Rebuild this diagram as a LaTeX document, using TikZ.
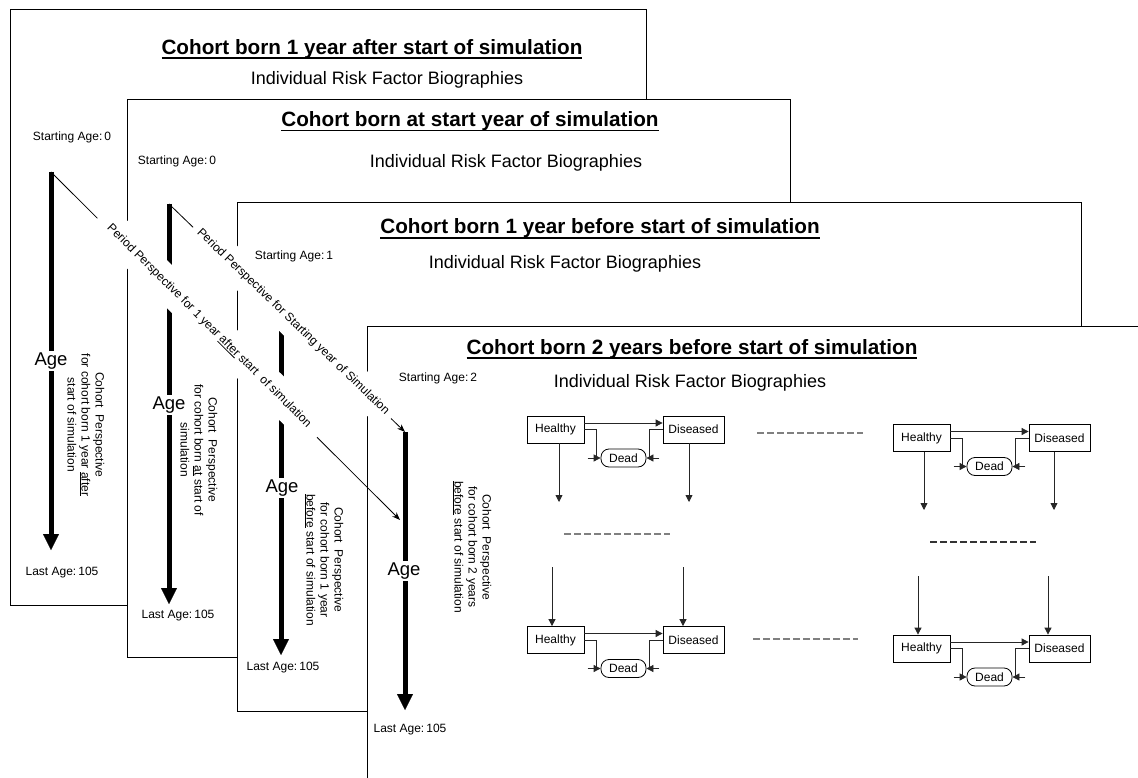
\documentclass[tikz,border=0pt]{standalone}
\usepackage{fontspec}
\setmainfont{Liberation Sans}
\usetikzlibrary{arrows.meta}
\newsavebox\ulbox
\newcommand\myul[3]{\sbox\ulbox{#3}\rlap{\rule[#1]{\wd\ulbox}{#2}}\usebox\ulbox}
\newcommand\tul[1]{\myul{-4.5pt}{1.8pt}{#1}}
\newcommand\sul[1]{\myul{-2pt}{0.8pt}{#1}}
\newcommand\stateblock[3]{%
  \node[stbox, minimum width=57pt, minimum height=27pt] (h#1) at (#2,#3) {Healthy};
  \node[stbox, minimum width=61pt, minimum height=27pt] (d#1) at (#2+138,#3) {Diseased};
  \node[deadbox, minimum width=45pt, minimum height=18pt] (x#1) at (#2+68,#3+28.5) {Dead};
  \draw[conn,arr] ([yshift=6.5pt]h#1.east) -- ([yshift=6.5pt]d#1.west);
  \draw[conn] (h#1.east) -| ([xshift=-4pt]x#1.west);
  \draw[conn,arr] ([xshift=-13pt]x#1.west) -- (x#1.west);
  \draw[conn] (d#1.west) -| ([xshift=3pt]x#1.east);
  \draw[conn,arr] ([xshift=13pt]x#1.east) -- (x#1.east);
}
\begin{document}
\begin{tikzpicture}[x=1pt,y=-1pt,
  panel/.style={draw=black, fill=white, line width=0.9pt, inner sep=0pt, anchor=north west},
  ttl/.style={font=\fontsize{20.7}{24}\selectfont\bfseries, anchor=base, inner sep=0pt},
  irfb/.style={font=\fontsize{18}{21}\selectfont, anchor=base, inner sep=0pt},
  agelbl/.style={font=\fontsize{12}{14}\selectfont, anchor=base, inner sep=0pt},
  agetxt/.style={font=\fontsize{18.5}{21}\selectfont, fill=white, inner sep=1.5pt},
  agearrow/.style={line width=5pt, -{Triangle[length=16pt,width=16pt,line width=0.1pt]}},
  cohtext/.style={font=\fontsize{12}{14}\selectfont, align=center, rotate=-90, inner sep=0pt},
  pertext/.style={font=\fontsize{12}{14}\selectfont, fill=white, inner sep=0pt},
  perline/.style={line width=0.8pt, -{Stealth[length=8pt,width=6pt]}},
  stbox/.style={draw=black, fill=white, font=\fontsize{12}{14}\selectfont, inner sep=0pt, line width=0.8pt},
  deadbox/.style={stbox, rounded corners=8pt},
  conn/.style={line width=0.8pt, draw=black!85},
  arr/.style={-{Triangle[length=7pt,width=7pt]}},
  dashg/.style={dash pattern=on 7pt off 3pt, line width=1.3pt, draw=black!50},
  dashk/.style={dash pattern=on 7pt off 3pt, line width=1.1pt, draw=black!80}
]
\useasboundingbox (0,0) rectangle (1138,778);
\clip (0,0) rectangle (1138,778);

% panels
\node[panel, minimum width=636pt, minimum height=596pt] (p1) at (10,9) {};
\node[panel, minimum width=663pt, minimum height=558pt] (p2) at (127,99) {};
\node[panel, minimum width=844pt, minimum height=509pt] (p3) at (237,202) {};
\node[panel, minimum width=793pt, minimum height=474pt] (p4) at (367,326) {};

% titles
\node[ttl] (t1) at (372,54.5) {\tul{Cohort born 1 year after start of simulation}};
\node[irfb] (i1) at (387,85) {Individual Risk Factor Biographies};
\node[ttl] (t2) at (470,127) {\tul{Cohort born at start year of simulation}};
\node[irfb] (i2) at (506,168) {Individual Risk Factor Biographies};
\node[ttl] (t3) at (600,234) {\tul{Cohort born 1 year before start of simulation}};
\node[irfb] (i3) at (565,269) {Individual Risk Factor Biographies};
\node[ttl] (t4) at (692,354) {\tul{Cohort born 2 years before start of simulation}};
\node[irfb] (i4) at (690,387) {Individual Risk Factor Biographies};

% starting / last ages
\node[agelbl] (s1) at (72,141) {Starting Age:\,0};
\node[agelbl] (s2) at (177,165) {Starting Age:\,0};
\node[agelbl] (s3) at (294,259) {Starting Age:\,1};
\node[agelbl] (s4) at (438,381) {Starting Age:\,2};
\node[agelbl] (l1) at (62,575) {Last Age:\,105};
\node[agelbl] (l2) at (178,618) {Last Age:\,105};
\node[agelbl] (l3) at (283,670) {Last Age:\,105};
\node[agelbl] (l4) at (410,732) {Last Age:\,105};

% age arrows
\coordinate (a1s) at (51,172);  \coordinate (a1e) at (51,550);
\coordinate (a2s) at (169,204); \coordinate (a2e) at (169,604);
\coordinate (a3s) at (281,300); \coordinate (a3e) at (281,655);
\coordinate (a4s) at (405,432); \coordinate (a4e) at (405,710);
\draw[agearrow] (a1s) -- (a1e);
\draw[agearrow] (a2s) -- (a2e);
\draw[agearrow] (a3s) -- (a3e);
\draw[agearrow] (a4s) -- (a4e);
\node[agetxt] (g1) at (51,361) {Age};
\node[agetxt] (g2) at (169,405) {Age};
\node[agetxt] (g3) at (282,488) {Age};
\node[agetxt] (g4) at (404,571) {Age};

% cohort perspective texts
\node[cohtext] (c1) at (86,425) {Cohort~ Perspective\\for cohort born 1 year \sul{after}\\start of simulation};
\node[cohtext] (c2) at (199,450) {Cohort~ Perspective\\for cohort born \sul{at} start of\\simulation};
\node[cohtext] (c3) at (324,560) {Cohort~ Perspective\\for cohort born 1 year\\\sul{before} start of simulation};
\node[cohtext] (c4) at (472,547) {Cohort~ Perspective\\for cohort born 2 years\\\sul{before} start of simulation};

% state diagrams
\stateblock{1}{555.5}{429.5}
\stateblock{2}{921.5}{438}
\stateblock{3}{555.5}{640}
\stateblock{4}{921.5}{648.5}

\coordinate (v1a) at (559,502);  \draw[conn,arr] (v1a |- h1.south) -- (v1a);
\coordinate (v1b) at (689,502);  \draw[conn,arr] (v1b |- d1.south) -- (v1b);
\coordinate (v2a) at (924,510);  \draw[conn,arr] (v2a |- h2.south) -- (v2a);
\coordinate (v2b) at (1054,510); \draw[conn,arr] (v2b |- d2.south) -- (v2b);
\coordinate (v3a) at (552,567);  \draw[conn,arr] (v3a) -- (v3a |- h3.north);
\coordinate (v3b) at (683,567);  \draw[conn,arr] (v3b) -- (v3b |- d3.north);
\coordinate (v4a) at (918,576);  \draw[conn,arr] (v4a) -- (v4a |- h4.north);
\coordinate (v4b) at (1048,576); \draw[conn,arr] (v4b) -- (v4b |- d4.north);

% dashed separators
\coordinate (q1a) at (757,433); \coordinate (q1b) at (863,433);
\coordinate (q2a) at (753,639); \coordinate (q2b) at (858,639);
\coordinate (q3a) at (564,534); \coordinate (q3b) at (670,534);
\coordinate (q4a) at (930,542); \coordinate (q4b) at (1036,542);
\draw[dashg] (q1a) -- (q1b);
\draw[dashg] (q2a) -- (q2b);
\draw[dashg] (q3a) -- (q3b);
\draw[dashk] (q4a) -- (q4b);

% period perspective lines
\coordinate (pA) at (400,520);
\draw[perline] (a1s) -- (pA);
\draw[perline] (a2s) -- (a4s);
\node[pertext, rotate=-44.9, minimum width=310pt, minimum height=34pt] (ta) at (209,326)
  {Period Perspective for 1 year \sul{after} start~ of simulation};
\node[pertext, rotate=-44.0, minimum width=275pt, minimum height=32pt] (tb) at (293,322)
  {Period Perspective for Starting year of Simulation};
\end{tikzpicture}
\end{document}
